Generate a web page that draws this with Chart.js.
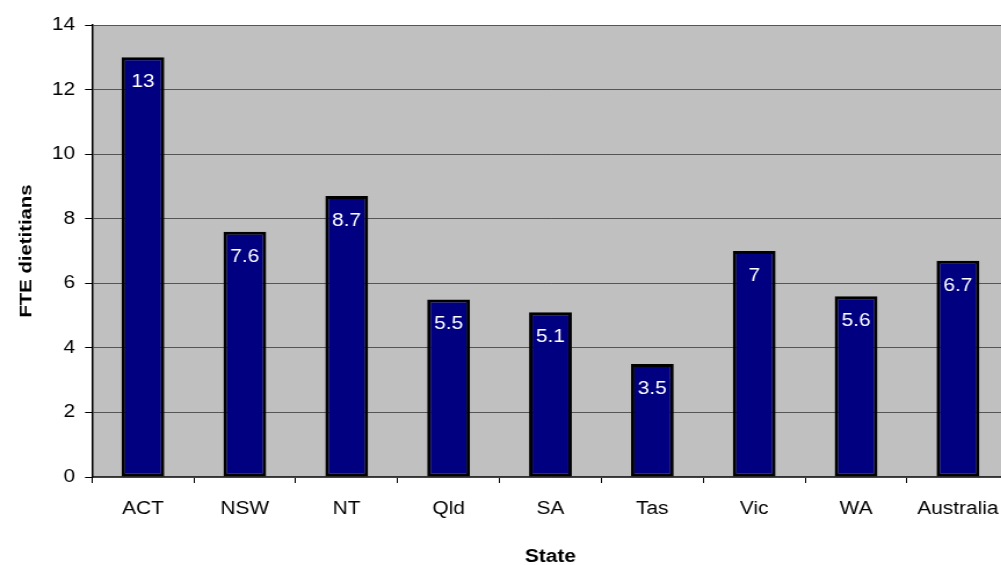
<!DOCTYPE html>
<html>
<head>
<meta charset="utf-8">
<script src="https://cdn.jsdelivr.net/npm/chart.js@4.4.0/dist/chart.umd.min.js"></script>
<style>
html,body{margin:0;padding:0;background:#fff;overflow:hidden;width:1001px;height:565px;}
#wrap{width:876px;height:570px;transform:scaleX(1.16);transform-origin:0 0;}
</style>
</head>
<body>
<div id="wrap"><canvas id="c" width="876" height="570"></canvas></div>
<script>
const categories = ['ACT','NSW','NT','Qld','SA','Tas','Vic','WA','Australia'];
const values = [13, 7.6, 8.7, 5.5, 5.1, 3.5, 7, 5.6, 6.7];
const yTicks = [0,2,4,6,8,10,12,14];
const yTitle = 'FTE dietitians';
const xTitle = 'State';

const FONT = 'Liberation Sans, Arial, sans-serif';
const SX = 1.16;

const plotBg = {
  id:'plotBg',
  beforeDraw(chart){
    const {ctx, chartArea:a} = chart;
    ctx.save();
    ctx.fillStyle = '#C0C0C0';
    ctx.fillRect(a.left, a.top, a.right-a.left, a.bottom-a.top);
    ctx.restore();
  }
};
const barLabels = {
  id:'barLabels',
  afterDatasetsDraw(chart){
    const {ctx} = chart;
    const meta = chart.getDatasetMeta(0);
    ctx.save();
    ctx.fillStyle = '#ffffff';
    ctx.font = '18px ' + FONT;
    ctx.textAlign = 'center';
    ctx.textBaseline = 'middle';
    meta.data.forEach((bar,i)=>{
      ctx.fillText(String(values[i]), bar.x, bar.y + 25);
    });
    ctx.restore();
  }
};
const yTitlePlugin = {
  id:'yTitlePlugin',
  afterDraw(chart){
    const {ctx, chartArea:a} = chart;
    ctx.save();
    ctx.translate(31/SX, (a.top + a.bottom)/2);
    ctx.scale(1/SX, 1);
    ctx.rotate(-Math.PI/2);
    ctx.scale(SX, 1);
    ctx.fillStyle = '#000';
    ctx.font = 'bold 17.5px ' + FONT;
    ctx.textAlign = 'center';
    ctx.textBaseline = 'alphabetic';
    ctx.fillText(yTitle, 0, 0);
    ctx.restore();
  }
};

new Chart(document.getElementById('c'), {
  type:'bar',
  data:{
    labels: categories,
    datasets:[{
      data: values,
      backgroundColor:'#000080',
      borderColor:'#000000',
      borderWidth:3,
      borderSkipped:false,
      barPercentage:0.42,
      categoryPercentage:1.0
    }]
  },
  options:{
    responsive:false,
    animation:false,
    devicePixelRatio:1,
    layout:{padding:{top:25,right:3,left:0,bottom:0}},
    plugins:{legend:{display:false},tooltip:{enabled:false}},
    scales:{
      x:{
        grid:{offset:true, drawOnChartArea:false, drawTicks:true, tickLength:6, tickColor:'#000', color:'#000'},
        border:{color:'#333', width:1.5},
        ticks:{color:'#000', font:{family:FONT, size:18}, padding:15, maxRotation:0, autoSkip:false},
        title:{display:true, text:xTitle, color:'#000', font:{family:FONT, size:18, weight:'bold'}, padding:{top:0,bottom:2}},
        afterFit(s){ s.height = 93; }
      },
      y:{
        min:0, max:14,
        afterBuildTicks(s){ s.ticks = yTicks.map(v=>({value:v})); },
        grid:{color:'#555', lineWidth:1, tickLength:6, tickColor:'#000'},
        border:{color:'#000', width:1.5},
        ticks:{color:'#000', font:{family:FONT, size:18}, padding:8.6},
        title:{display:false},
        afterFit(s){ s.width = 79.3; }
      }
    }
  },
  plugins:[plotBg, barLabels, yTitlePlugin]
});
</script>
</body>
</html>
